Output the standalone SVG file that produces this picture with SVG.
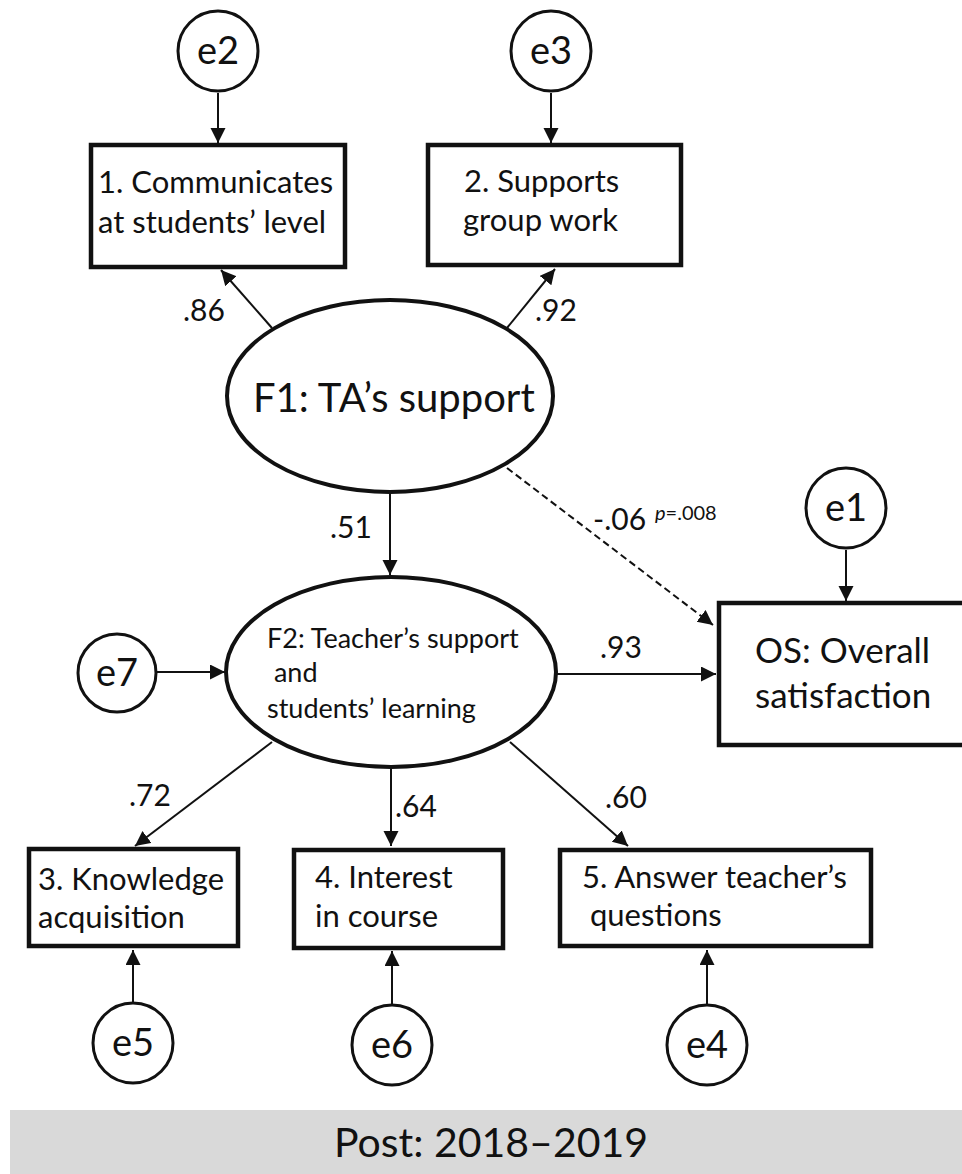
<svg xmlns="http://www.w3.org/2000/svg" width="962" height="1174" viewBox="0 0 962 1174">
<style>
text{font-family:Lato,"Open Sans","Liberation Sans",sans-serif;fill:#111}
.err circle{fill:#fff;stroke:#111;stroke-width:3}
.err text{font-size:38px;text-anchor:middle}
.box rect{fill:#fff;stroke:#111;stroke-width:4.5}
.box text{font-size:31px}
.box text.big{font-size:35px}
.lat ellipse{fill:#fff;stroke:#111;stroke-width:4}
.lbl{font-size:30px}
.con line{stroke:#111;stroke-width:2;marker-end:url(#ah)}
.con line.dash{stroke-dasharray:7 4}
</style>
<defs>
<marker id="ah" markerUnits="userSpaceOnUse" markerWidth="16" markerHeight="16" refX="15" refY="7.5" orient="auto">
<path d="M0,0 L15,7.5 L0,15 z" fill="#111"/>
</marker>
</defs>
<rect width="962" height="1174" fill="#fff"/>

<g id="connectors" class="con">
<line x1="218" y1="93" x2="218" y2="143"/>
<line x1="551" y1="93" x2="551" y2="143"/>
<line x1="272" y1="328" x2="221" y2="270"/>
<line x1="507" y1="328" x2="555" y2="269"/>
<line x1="390" y1="493" x2="390" y2="575"/>
<line class="dash" x1="507" y1="468" x2="713" y2="625"/>
<line x1="846" y1="550" x2="846" y2="601"/>
<line x1="157" y1="672" x2="225" y2="672"/>
<line x1="557" y1="674" x2="716" y2="674"/>
<line x1="272" y1="742" x2="135" y2="846"/>
<line x1="391" y1="768" x2="391" y2="846"/>
<line x1="510" y1="742" x2="628" y2="846"/>
<line x1="133" y1="1002" x2="133" y2="950"/>
<line x1="392" y1="1004" x2="392" y2="951"/>
<line x1="707" y1="1004" x2="707" y2="950"/>
</g>

<g id="labels">
<text class="lbl" x="183" y="321">.86</text>
<text class="lbl" x="535" y="321">.92</text>
<text class="lbl" x="330" y="538">.51</text>
<text class="lbl" x="593" y="530">-.06</text>
<text x="655" y="520" font-size="20px"><tspan font-style="italic">p</tspan>=.008</text>
<text class="lbl" x="600" y="658">.93</text>
<text class="lbl" x="129" y="806">.72</text>
<text class="lbl" x="395" y="817">.64</text>
<text class="lbl" x="605" y="808">.60</text>
</g>

<g id="e2" class="err"><circle cx="218" cy="51" r="40"/><text x="218" y="64">e2</text></g>
<g id="e3" class="err"><circle cx="551" cy="51" r="40"/><text x="551" y="64">e3</text></g>
<g id="e1" class="err"><circle cx="846" cy="508" r="40"/><text x="846" y="521">e1</text></g>
<g id="e7" class="err"><circle cx="117" cy="673" r="39"/><text x="117" y="686">e7</text></g>
<g id="e5" class="err"><circle cx="133" cy="1043" r="40"/><text x="133" y="1056">e5</text></g>
<g id="e6" class="err"><circle cx="392" cy="1045" r="40"/><text x="392" y="1058">e6</text></g>
<g id="e4" class="err"><circle cx="707" cy="1045" r="40"/><text x="707" y="1058">e4</text></g>

<g id="item1" class="box"><rect x="91" y="145" width="254" height="122"/>
<text x="98" y="193">1. Communicates</text><text x="98" y="233">at students’ level</text></g>
<g id="item2" class="box"><rect x="428" y="145" width="253" height="120"/>
<text x="464" y="192">2. Supports</text><text x="463" y="231">group work</text></g>

<g id="F1" class="lat"><ellipse cx="390" cy="396" rx="163" ry="96"/>
<text x="253" y="412" font-size="40px">F1: TA’s support</text></g>

<g id="F2" class="lat"><ellipse cx="391" cy="672" rx="165" ry="95"/>
<text x="267" y="648" font-size="27px">F2: Teacher’s support</text>
<text x="267" y="682" font-size="27px" xml:space="preserve"> and</text>
<text x="267" y="718" font-size="27px">students’ learning</text></g>

<g id="OS" class="box"><rect x="719" y="603" width="250" height="142"/>
<text class="big" x="755" y="663">OS: Overall</text><text class="big" x="755" y="708">satisfaction</text></g>

<g id="item3" class="box"><rect x="29" y="849" width="209" height="97"/>
<text x="38" y="890">3. Knowledge</text><text x="38" y="928">acquisition</text></g>
<g id="item4" class="box"><rect x="294" y="850" width="209" height="98"/>
<text x="315" y="888">4. Interest</text><text x="315" y="927">in course</text></g>
<g id="item5" class="box"><rect x="560" y="850" width="311" height="96"/>
<text x="582" y="888">5. Answer teacher’s</text><text x="582" y="926" xml:space="preserve"> questions</text></g>

<g id="caption"><rect x="10" y="1110" width="952" height="64" fill="#d9d9d9"/>
<text x="491" y="1157" font-size="41px" text-anchor="middle">Post: 2018–2019</text></g>
</svg>
